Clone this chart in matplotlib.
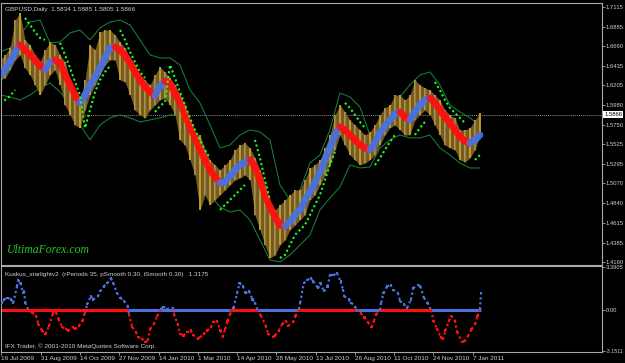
import numpy as np
import matplotlib
matplotlib.use('Agg')
import matplotlib.pyplot as plt
from matplotlib.collections import LineCollection

# ---------------------------------------------------------------------------
# Data (x axis = trading bars from 16 Jul 2009)
# ---------------------------------------------------------------------------
STEP = 4.2        # bars between price samples
BAND_STEP = 8.4   # bars between band samples
X0 = -1.2

price_high = [1.6501, 1.6559, 1.6640, 1.6964, 1.7045, 1.6733, 1.6675, 1.6559, 1.6478, 1.6617,
              1.6709, 1.6675, 1.6559, 1.6478, 1.6269, 1.6095, 1.6037, 1.6269, 1.6675, 1.6617,
              1.6825, 1.6848, 1.6848, 1.6791, 1.6709, 1.6640, 1.6524, 1.6443, 1.6327, 1.6269,
              1.6211, 1.6327, 1.6420, 1.6362, 1.6292, 1.6211, 1.6095, 1.5979, 1.5806, 1.5632,
              1.5632, 1.5458, 1.5342, 1.5284, 1.5226, 1.5284, 1.5342, 1.5458, 1.5516, 1.5539,
              1.5481, 1.5365, 1.5226, 1.5052, 1.4821, 1.4763, 1.4821, 1.4879, 1.4936, 1.4994,
              1.4994, 1.5110, 1.5249, 1.5284, 1.5342, 1.5481, 1.5632, 1.5864, 1.5979, 1.5898,
              1.5806, 1.5748, 1.5690, 1.5632, 1.5666, 1.5748, 1.5864, 1.5945, 1.5979, 1.6095,
              1.6095, 1.6037, 1.6095, 1.6269, 1.6211, 1.6176, 1.6153, 1.6095, 1.6037, 1.5921,
              1.5864, 1.5829, 1.5690, 1.5690, 1.5713, 1.5806, 1.5885]

price_low = [1.6269, 1.6292, 1.6385, 1.6501, 1.6559, 1.6408, 1.6327, 1.6211, 1.6095, 1.6211,
             1.6327, 1.6385, 1.6211, 1.5979, 1.5864, 1.5748, 1.5713, 1.5921, 1.6095, 1.6211,
             1.6327, 1.6443, 1.6501, 1.6501, 1.6269, 1.6246, 1.6095, 1.5921, 1.5864, 1.5829,
             1.5921, 1.5979, 1.6037, 1.6060, 1.5979, 1.5864, 1.5574, 1.5516, 1.5342, 1.5168,
             1.4763, 1.4936, 1.4821, 1.4879, 1.4936, 1.4994, 1.5052, 1.5110, 1.5133, 1.5168,
             1.5110, 1.4705, 1.4531, 1.4357, 1.4206, 1.4241, 1.4357, 1.4415, 1.4531, 1.4589,
             1.4647, 1.4705, 1.4879, 1.4936, 1.5052, 1.5168, 1.5284, 1.5458, 1.5632, 1.5516,
             1.5400, 1.5342, 1.5284, 1.5307, 1.5342, 1.5400, 1.5516, 1.5632, 1.5713, 1.5748,
             1.5690, 1.5632, 1.5632, 1.5806, 1.5864, 1.5921, 1.5864, 1.5748, 1.5632, 1.5516,
             1.5481, 1.5458, 1.5342, 1.5319, 1.5365, 1.5458, 1.5632]

ma_line = [1.6327, 1.6385, 1.6478, 1.6594, 1.6675, 1.6617, 1.6559, 1.6501, 1.6431, 1.6385,
           1.6478, 1.6501, 1.6466, 1.6327, 1.6211, 1.6095, 1.6003, 1.6095, 1.6211, 1.6304,
           1.6408, 1.6524, 1.6640, 1.6651, 1.6617, 1.6547, 1.6466, 1.6362, 1.6269, 1.6188,
           1.6130, 1.6084, 1.6200, 1.6257, 1.6223, 1.6118, 1.6003, 1.5864, 1.5724, 1.5597,
           1.5458, 1.5342, 1.5226, 1.5145, 1.5076, 1.5087, 1.5157, 1.5226, 1.5284, 1.5319,
           1.5342, 1.5261, 1.5110, 1.4936, 1.4797, 1.4681, 1.4589, 1.4577, 1.4624, 1.4705,
           1.4763, 1.4879, 1.4971, 1.5076, 1.5203, 1.5342, 1.5481, 1.5632, 1.5724, 1.5690,
           1.5632, 1.5574, 1.5516, 1.5481, 1.5458, 1.5539, 1.5655, 1.5736, 1.5806, 1.5875,
           1.5898, 1.5840, 1.5806, 1.5898, 1.5979, 1.6037, 1.6060, 1.6003, 1.5921, 1.5840,
           1.5771, 1.5690, 1.5609, 1.5562, 1.5539, 1.5574, 1.5632]

upper_band = [1.6594, 1.6640, 1.6791, 1.6941, 1.6964, 1.6698, 1.6709, 1.6814, 1.6848, 1.6733,
              1.6872, 1.6941, 1.6964, 1.6906, 1.6733, 1.6559, 1.6524, 1.6524, 1.6443, 1.6153,
              1.6003, 1.5748, 1.5481, 1.5516, 1.5632, 1.5690, 1.5666, 1.5574, 1.5052, 1.4879,
              1.4994, 1.5307, 1.5400, 1.5690, 1.6118, 1.6072, 1.5956, 1.5632, 1.5724, 1.5921,
              1.6072, 1.6211, 1.6327, 1.6362, 1.6211, 1.5979, 1.5898, 1.5829, 1.5748]

lower_band = [1.6095, 1.6072, 1.6037, 1.6095, 1.6176, 1.6234, 1.6130, 1.5979, 1.5748, 1.5574,
              1.5748, 1.5829, 1.5864, 1.5829, 1.5783, 1.5806, 1.5829, 1.5864, 1.5864, 1.5690,
              1.5168, 1.4936, 1.4797, 1.4739, 1.4763, 1.4647, 1.4415, 1.4183, 1.4160, 1.4241,
              1.4357, 1.4473, 1.4763, 1.4902, 1.5029, 1.5284, 1.5249, 1.5261, 1.5481, 1.5574,
              1.5632, 1.5597, 1.5597, 1.5632, 1.5481, 1.5400, 1.5307, 1.5249, 1.5249]

nan = np.nan
sar = [1.6003, 1.6037, 1.6084, 1.6153, nan, 1.6988, 1.6906, 1.6825, 1.6756, 1.6733,
       nan, nan, 1.6698, 1.6559, 1.6408, 1.6246, 1.6095, 1.5713, 1.5921, 1.6130,
       1.6269, 1.6362, 1.6431, nan, 1.6848, 1.6733, 1.6594, 1.6478, 1.6362, 1.6292,
       nan, 1.5898, 1.5968, 1.6014, 1.6443, 1.6292, 1.6130, 1.5979, 1.5829, 1.5690,
       1.5574, 1.5458, 1.5365, nan, 1.4763, 1.4821, 1.4879, 1.4936, 1.4994, 1.5052,
       nan, 1.5574, 1.5365, 1.5110, 1.4879, nan, 1.4206, 1.4241, 1.4357, 1.4473,
       1.4531, 1.4589, 1.4705, 1.4821, 1.4936, 1.5110, 1.5284, 1.5435, nan, 1.6003,
       1.5945, 1.5864, 1.5783, 1.5713, nan, 1.5284, 1.5365, 1.5458, 1.5551, 1.5632,
       nan, 1.6130, nan, 1.5632, 1.5713, 1.5783, nan, 1.6246, 1.6153, 1.6037,
       1.5945, 1.5887, 1.5829, 1.5771, nan, 1.5342, 1.5400]

# Kuskus starlight oscillator (bar index, value)
ind_bar = [0, 2, 5, 8, 10, 13, 14, 16, 18, 19, 20, 23, 26, 29, 31, 34, 37, 40, 43, 44,
           46, 48, 51, 54, 56, 60, 62, 65, 68, 70, 72, 75, 77, 81, 83, 86, 89, 92, 94, 97,
           100, 103, 106, 107, 110, 113, 115, 118, 121, 123, 125, 128, 131, 134, 136, 139, 144, 145, 148, 150,
           153, 156, 159, 161, 165, 167, 170, 173, 176, 178, 181, 184, 186, 188, 190, 192, 195, 198, 200, 203,
           205, 208, 211, 213, 215, 218, 222, 224, 228, 230, 233, 236, 239, 241, 245, 247, 250, 251, 254, 257,
           260, 262, 266, 268, 271, 274, 276, 279, 282, 285, 287, 288, 292, 294, 297, 299, 302, 305, 308, 311,
           313, 315, 318, 319, 321, 324, 327, 329, 333, 335, 338, 341, 344, 346, 350, 352, 355, 358, 361, 363,
           366, 369, 371, 373, 376, 378, 381, 383, 387, 389, 392, 395, 398, 400, 402, 403]
ind_val = [0.59, 0.84, 0.97, 0.84, 0.59, 1.86, 2.37, 2.11, 1.35, 1.48, 0.59, -0.05, -0.18, -0.43, -1.07, -1.58, -1.83, -1.20, -0.30, 0.00,
           -0.18, -0.69, -1.32, -1.45, -1.58, -1.32, -1.45, -1.20, -0.81, -0.18, 0.46, 1.09, 0.84, 1.09, 1.48, 1.86, 2.11, 2.49, 2.11, 1.35,
           0.97, 0.71, 0.33, -0.31, -1.32, -1.70, -2.09, -2.21, -2.47, -2.34, -1.45, -1.07, -0.43, 0.08, 0.28, 0.08, 0.20, -0.31, -1.07, -1.83,
           -1.96, -1.70, -1.58, -1.91, -2.21, -2.09, -1.83, -1.58, -1.32, -0.94, -0.81, -1.58, -2.09, -1.45, -0.81, -0.31, 0.20, 1.35, 2.11, 1.86,
           1.35, 1.48, 0.84, 0.59, 0.08, -0.43, -1.20, -1.83, -2.09, -1.96, -1.58, -1.07, -0.81, -1.20, -0.94, -0.43, 0.08, 0.59, 2.11, 2.37,
           2.49, 2.24, 1.73, 2.11, 1.48, 1.86, 2.75, 2.75, 2.88, 2.24, 1.60, 1.09, 0.84, 0.59, 0.28, 0.03, -0.23, -0.56, -0.94, -1.32,
           -0.81, -0.31, 0.03, 0.59, 1.35, 1.86, 1.98, 1.60, 1.35, 0.71, 0.46, 0.20, 0.84, 1.73, 1.98, 1.86, 0.97, 0.59, 0.00, -0.81,
           -1.45, -2.09, -2.26, -1.58, -0.81, -0.43, -0.81, -1.70, -2.47, -2.42, -2.01, -1.45, -1.07, -0.43, 0.08, 1.35]

zero_breaks = [0, 106, 192, 215, 250, 297, 317, 361, 403]
zero_colors = ['red', 'blue', 'red', 'blue', 'red', 'blue', 'red', 'blue']

price_ticks = [1.7115, 1.6885, 1.6660, 1.6435, 1.6205, 1.5980, 1.5750,
               1.5525, 1.5295, 1.5070, 1.4840, 1.4615, 1.4385, 1.4160]
date_ticks = [0, 33, 66, 99, 132, 165, 198, 231, 264, 297, 330, 363, 396]
date_labels = ['16 Jul 2009', '31 Aug 2009', '14 Oct 2009', '27 Nov 2009', '14 Jan 2010',
               '1 Mar 2010', '14 Apr 2010', '28 May 2010', '13 Jul 2010', '26 Aug 2010',
               '11 Oct 2010', '24 Nov 2010', '7 Jan 2011']
last_price = 1.5866

# ---------------------------------------------------------------------------
BG = 'black'
FG = '#d0d0d0'
FRAME = '#a8a8a8'
RED = '#ff1010'
BLUE = '#4a72dc'
FONT = 'Liberation Sans'
FS = 4.6
FSY = 4.2   # right-hand scale labels

fig = plt.figure(figsize=(6.25, 3.63), dpi=100, facecolor=BG)
ax = fig.add_axes([0.0016, 0.2700, 0.9616, 0.7218], facecolor=BG)
ax2 = fig.add_axes([0.0016, 0.0303, 0.9616, 0.2369], facecolor=BG)

XLIM = (-0.4, 504.6)

# --- main panel ---
xp = np.arange(len(price_high)) * STEP + X0
xb = np.arange(len(upper_band)) * BAND_STEP + X0

ax.plot(xb, upper_band, color='#16803a', lw=0.75, zorder=1)
ax.plot(xb, lower_band, color='#16803a', lw=0.75, zorder=1)

# price bars: dark body of the range plus gold bars on top
ax.fill_between(xp, price_low, price_high, color='#735a26', lw=0, zorder=2)
ax.vlines(xp, price_low, price_high, colors='#c9a227', lw=1.3, zorder=2.5)
ax.vlines(xp[1::2], price_low[1::2], price_high[1::2], colors='#8c7a4a', lw=1.0, zorder=2.6)

pts = np.column_stack([xp, ma_line])
segs = np.stack([pts[:-1], pts[1:]], axis=1)
ma_cols = [BLUE if b > a else RED for a, b in zip(ma_line[:-1], ma_line[1:])]
ax.add_collection(LineCollection(segs, colors=ma_cols, linewidths=5.0,
                                 capstyle='round', alpha=0.92, zorder=3))

ax.plot(xp, sar, color='#22ff22', lw=1.5, ls=(0, (1, 1.3)), zorder=4)

ax.axhline(last_price, color='#8a8a8a', lw=0.7, ls=(0, (1, 1)), zorder=0)

ax.set_xlim(*XLIM)
ax.set_ylim(1.4125, 1.7161)
ax.set_xticks([])
ax.yaxis.tick_right()
ax.set_yticks(price_ticks)
ax.set_yticklabels([f'{t:.4f}' for t in price_ticks])
ax.tick_params(axis='y', colors=FRAME, labelcolor=FG, length=2, width=0.6,
               labelsize=FSY, pad=0.8)
for lab in ax.get_yticklabels():
    lab.set_fontfamily(FONT)
for s in ax.spines.values():
    s.set_color(FRAME)
    s.set_linewidth(0.8)

ax.annotate(f'{last_price:.4f}', xy=(1.0, last_price), xycoords=('axes fraction', 'data'),
            xytext=(1.5, 0), textcoords='offset points', va='center', ha='left',
            fontsize=FSY, family=FONT, color='black',
            bbox=dict(boxstyle='square,pad=0.15', fc='white', ec='none'))

ax.text(0.006, 0.985, 'GBPUSD,Daily  1.5834 1.5885 1.5805 1.5866', transform=ax.transAxes,
        ha='left', va='top', fontsize=FS, family=FONT, color=FG)
ax.text(0.01, 0.035, 'UltimaForex.com', transform=ax.transAxes, ha='left', va='bottom',
        fontsize=8.5, family='Liberation Serif', style='italic', color='#22c822')

# --- oscillator panel ---
for i, c in enumerate(zero_colors):
    ax2.hlines(0, zero_breaks[i], zero_breaks[i + 1], colors=RED if c == 'red' else BLUE,
               lw=2.2, zorder=1)

ip = np.column_stack([ind_bar, ind_val])
isegs = np.stack([ip[:-1], ip[1:]], axis=1)
icols = [BLUE if (a + b) > 0 else RED for a, b in zip(ind_val[:-1], ind_val[1:])]
ax2.add_collection(LineCollection(isegs, colors=icols, linewidths=1.6,
                                  linestyles=[(0, (1, 1.2))], zorder=2))
ax2.scatter(ind_bar, ind_val, s=2.5, marker='s', lw=0,
            c=[BLUE if v > 0 else RED for v in ind_val], zorder=3)

ax2.set_xlim(*XLIM)
ax2.set_ylim(-3.25, 3.45)
ax2.yaxis.tick_right()
ax2.set_yticks([3.3905, 0.0, -3.1511])
ax2.set_yticklabels(['3.3905', '0.00', '-3.1511'])
ax2.set_xticks(date_ticks)
ax2.set_xticklabels(date_labels)
ax2.tick_params(axis='both', colors=FRAME, labelcolor=FG, length=2, width=0.6,
                labelsize=FS, pad=1)
ax2.tick_params(axis='y', labelsize=FSY, pad=0.8)
for lab in ax2.get_xticklabels():
    lab.set_ha('left')
    lab.set_fontfamily(FONT)
for lab in ax2.get_yticklabels():
    lab.set_fontfamily(FONT)
ax2.get_yticklabels()[-1].set_fontsize(3.8)
for s in ax2.spines.values():
    s.set_color(FRAME)
    s.set_linewidth(0.8)

ax2.text(0.006, 0.93, 'Kuskus_starlightv2  (rPeriods 35, pSmooth 0.30, iSmooth 0.30)   1.3175',
         transform=ax2.transAxes, ha='left', va='top', fontsize=FS, family=FONT, color=FG)
ax2.text(0.006, 0.03, 'IFX Trader, \u00a9 2001-2010 MetaQuotes Software Corp.',
         transform=ax2.transAxes, ha='left', va='bottom', fontsize=FS, family=FONT, color=FG)

fig.savefig('out.png', dpi=100, facecolor=BG)
